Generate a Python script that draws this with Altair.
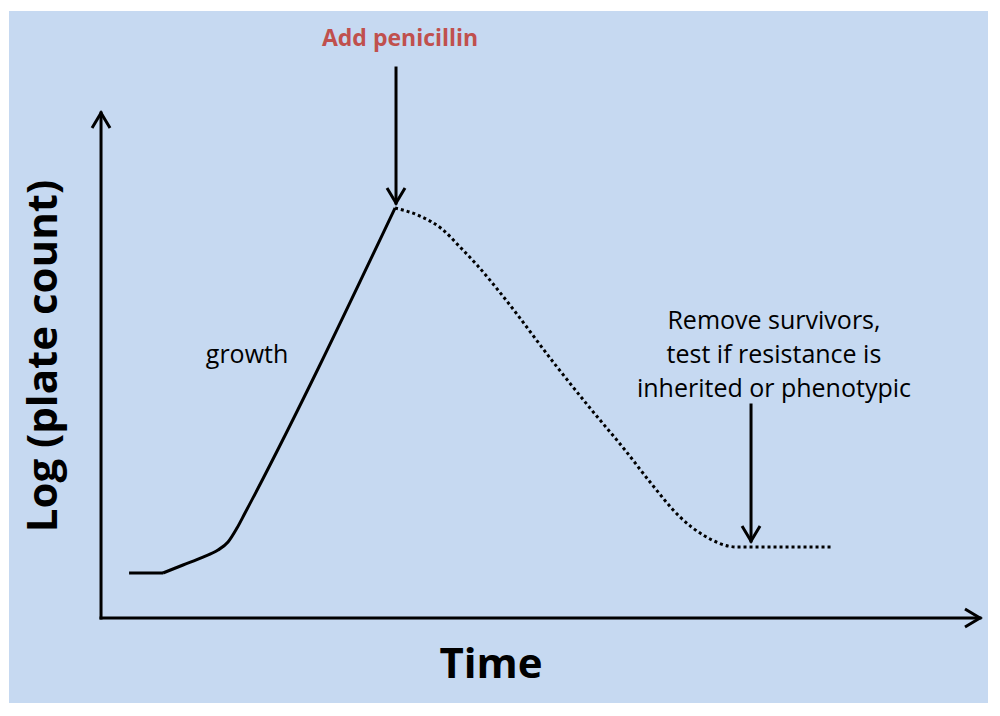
import altair as alt
import pandas as pd

BG = "#c6d9f1"
RED = "#c0504d"
FONT = "Open Sans"

# Axis units: time 0..10 along the x arrow, log(plate count) 0..10 along the y arrow
X_DOMAIN = [-1.047, 10.091]
Y_DOMAIN = [-1.683, 12.020]

# lag phase (flat solid segment)
lag_t = [0.319, 0.705]
lag_y = [0.891, 0.891]

# growth phase (solid curve)
growth_t = [0.705, 0.933, 1.160, 1.331, 1.445, 1.547, 1.638, 3.345]
growth_y = [0.891, 1.050, 1.208, 1.347, 1.505, 1.782, 2.079, 8.119]

# killing phase after penicillin (dotted curve)
kill_t = [3.345, 3.629, 3.879, 4.084, 4.278, 4.562, 5.188, 5.563,
          5.961, 6.246, 6.587, 6.849, 7.235, 8.316]
kill_y = [8.119, 7.960, 7.703, 7.347, 6.990, 6.396, 4.970, 4.158,
          3.327, 2.693, 2.000, 1.644, 1.406, 1.406]

# arrows: axes and the two annotation arrows
arrow_x1 = [0.0, 0.0, 3.356, 7.395]
arrow_y1 = [0.0, 0.0, 10.891, 4.218]
arrow_x2 = [0.0, 10.0, 3.356, 7.395]
arrow_y2 = [10.0, 0.0, 8.218, 1.525]
UP = "M -0.6 1 L 0 0 L 0.6 1"
DOWN = "M -0.6 -1 L 0 0 L 0.6 -1"
RIGHT = "M -1 -0.6 L 0 0 L -1 0.6"
arrow_head = [UP, RIGHT, DOWN, DOWN]

# annotation texts
note_text = ["Remove survivors,", "test if resistance is", "inherited or phenotypic"]
note_t = [7.656, 7.656, 7.656]
note_y = [5.723, 5.050, 4.376]

xs = alt.Scale(domain=X_DOMAIN, nice=False, zero=False)
ys = alt.Scale(domain=Y_DOMAIN, nice=False, zero=False)

def X(f="t"):
    return alt.X(f"{f}:Q", scale=xs, axis=None)

def Y(f="y"):
    return alt.Y(f"{f}:Q", scale=ys, axis=None)

arrows_df = pd.DataFrame({"x1": arrow_x1, "y1": arrow_y1, "x2": arrow_x2,
                          "y2": arrow_y2, "head": arrow_head})

shafts = alt.Chart(arrows_df).mark_rule(
    color="black", strokeWidth=3, strokeCap="square"
).encode(x=X("x1"), y=Y("y1"), x2="x2:Q", y2="y2:Q")

heads = alt.Chart(arrows_df).mark_point(
    filled=False, color="black", strokeWidth=3, size=900, opacity=1,
    strokeJoin="miter"
).encode(x=X("x2"), y=Y("y2"), shape=alt.Shape("head:N", scale=None))

lag = alt.Chart(pd.DataFrame({"t": lag_t, "y": lag_y})).mark_line(
    color="black", strokeWidth=3
).encode(x=X(), y=Y())

growth = alt.Chart(pd.DataFrame({"t": growth_t, "y": growth_y})).mark_line(
    color="black", strokeWidth=3, interpolate="monotone"
).encode(x=X(), y=Y())

kill = alt.Chart(pd.DataFrame({"t": kill_t, "y": kill_y})).mark_line(
    color="black", strokeWidth=3, interpolate="monotone", strokeDash=[3, 3]
).encode(x=X(), y=Y())

def text_layer(texts, ts, yv, **kw):
    df = pd.DataFrame({"label": texts, "t": ts, "y": yv})
    return alt.Chart(df).mark_text(font=FONT, align="center",
                                   baseline="alphabetic", **kw).encode(
        x=X(), y=Y(), text="label:N")

title = text_layer(["Add penicillin"], [3.402], [11.327],
                   fontSize=23, fontWeight="bold", color=RED)
growth_lbl = text_layer(["growth"], [1.661], [5.050], fontSize=25, color="black")
notes = text_layer(note_text, note_t, note_y, fontSize=25, color="black")
xlabel = text_layer(["Time"], [4.437], [-1.188], fontSize=42,
                    fontWeight="bold", color="black")
ylabel = text_layer(["Log (plate count)"], [-0.501], [5.188], fontSize=42,
                    fontWeight="bold", color="black", angle=270)

chart = alt.layer(
    lag, growth, kill, shafts, heads, title, growth_lbl, notes, xlabel, ylabel
).properties(
    width=979, height=692,
    autosize=alt.AutoSizeParams(type="none"),
    padding={"left": 1, "top": 3, "right": 0, "bottom": 0},
    background="white",
).configure_view(fill=BG, stroke=None)

chart.save("out.html", embed_options={"renderer": "svg", "actions": False})
